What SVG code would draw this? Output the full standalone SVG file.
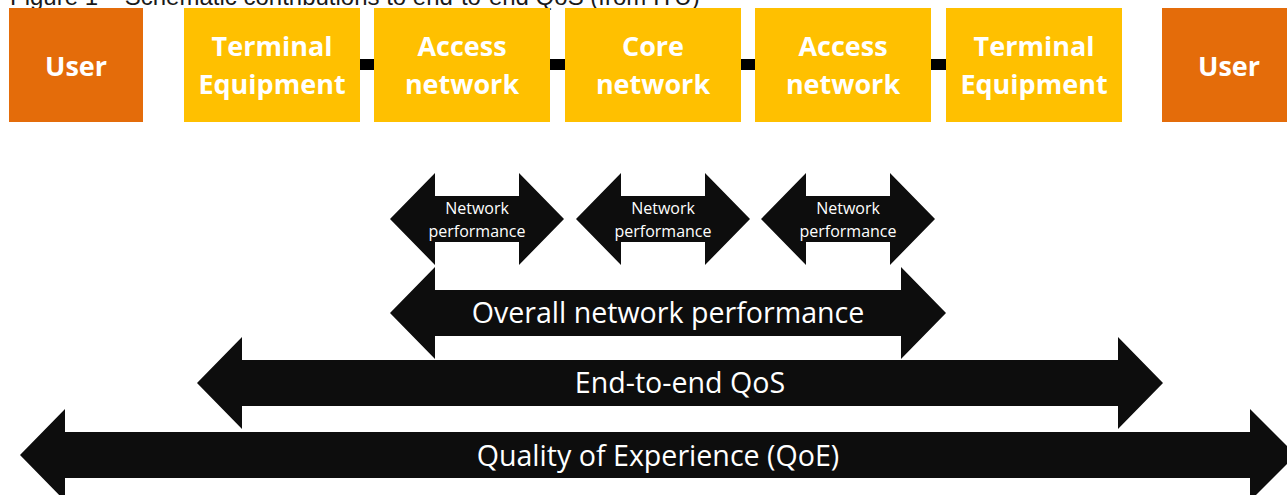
<svg xmlns="http://www.w3.org/2000/svg" width="1287" height="495" viewBox="0 0 1287 495">
<style>
.user{fill:#E46C0A}
.box{fill:#FFC000}
.bt{font-family:"Open Sans",sans-serif;font-weight:bold;font-size:27px;fill:#FFFFFF;text-anchor:middle}
.arr{fill:#0D0D0D}
.st{font-family:"Open Sans",sans-serif;font-size:16px;fill:#FFFFFF;text-anchor:middle}
.lt{font-family:"Open Sans",sans-serif;font-size:28.6px;fill:#FFFFFF;text-anchor:middle}
.title{font-family:"Liberation Sans",Arial,sans-serif;font-size:24px;fill:#1a1a1a}
.conn{fill:#000000}
</style>
<rect width="1287" height="495" fill="#FFFFFF"/>
<text class="title" x="10" y="4.5">Figure 1 – Schematic contributions to end-to-end QoS (from ITU)</text>
<g id="connectors">
<rect class="conn" x="359" y="59" width="16" height="11"/>
<rect class="conn" x="549" y="59" width="17" height="11"/>
<rect class="conn" x="740" y="59" width="16" height="11"/>
<rect class="conn" x="930" y="59" width="17" height="11"/>
</g>
<g id="user-left"><rect class="user" x="9" y="8" width="134" height="114"/><text class="bt" x="76" y="76">User</text></g>
<g id="terminal-left"><rect class="box" x="184" y="8" width="176" height="114"/><text class="bt" x="272" y="56">Terminal</text><text class="bt" x="272" y="94">Equipment</text></g>
<g id="access-left"><rect class="box" x="374" y="8" width="176" height="114"/><text class="bt" x="462" y="56">Access</text><text class="bt" x="462" y="94">network</text></g>
<g id="core"><rect class="box" x="565" y="8" width="176" height="114"/><text class="bt" x="653" y="56">Core</text><text class="bt" x="653" y="94">network</text></g>
<g id="access-right"><rect class="box" x="755" y="8" width="176" height="114"/><text class="bt" x="843" y="56">Access</text><text class="bt" x="843" y="94">network</text></g>
<g id="terminal-right"><rect class="box" x="946" y="8" width="176" height="114"/><text class="bt" x="1034" y="56">Terminal</text><text class="bt" x="1034" y="94">Equipment</text></g>
<g id="user-right"><rect class="user" x="1162" y="8" width="134" height="114"/><text class="bt" x="1229" y="76">User</text></g>
<g id="np1"><polygon class="arr" points="390,219 435,173 435,196 519,196 519,173 564,219 519,265 519,242 435,242 435,265"/><text class="st" x="477" y="214">Network</text><text class="st" x="477" y="237">performance</text></g>
<g id="np2"><polygon class="arr" points="576,219 621,173 621,196 705,196 705,173 750,219 705,265 705,242 621,242 621,265"/><text class="st" x="663" y="214">Network</text><text class="st" x="663" y="237">performance</text></g>
<g id="np3"><polygon class="arr" points="761,219 806,173 806,196 890,196 890,173 935,219 890,265 890,242 806,242 806,265"/><text class="st" x="848" y="214">Network</text><text class="st" x="848" y="237">performance</text></g>
<g id="overall"><polygon class="arr" points="390,313 435,267 435,290 901,290 901,267 946,313 901,359 901,336 435,336 435,359"/><text class="lt" x="668" y="323">Overall network performance</text></g>
<g id="e2e"><polygon class="arr" points="197,383 242,337 242,360 1118,360 1118,337 1163,383 1118,429 1118,406 242,406 242,429"/><text class="lt" x="680" y="393">End-to-end QoS</text></g>
<g id="qoe"><polygon class="arr" points="20,455 65,409 65,432 1250,432 1250,409 1296,455 1250,501 1250,478 65,478 65,501"/><text class="lt" x="658" y="466">Quality of Experience (QoE)</text></g>
</svg>
